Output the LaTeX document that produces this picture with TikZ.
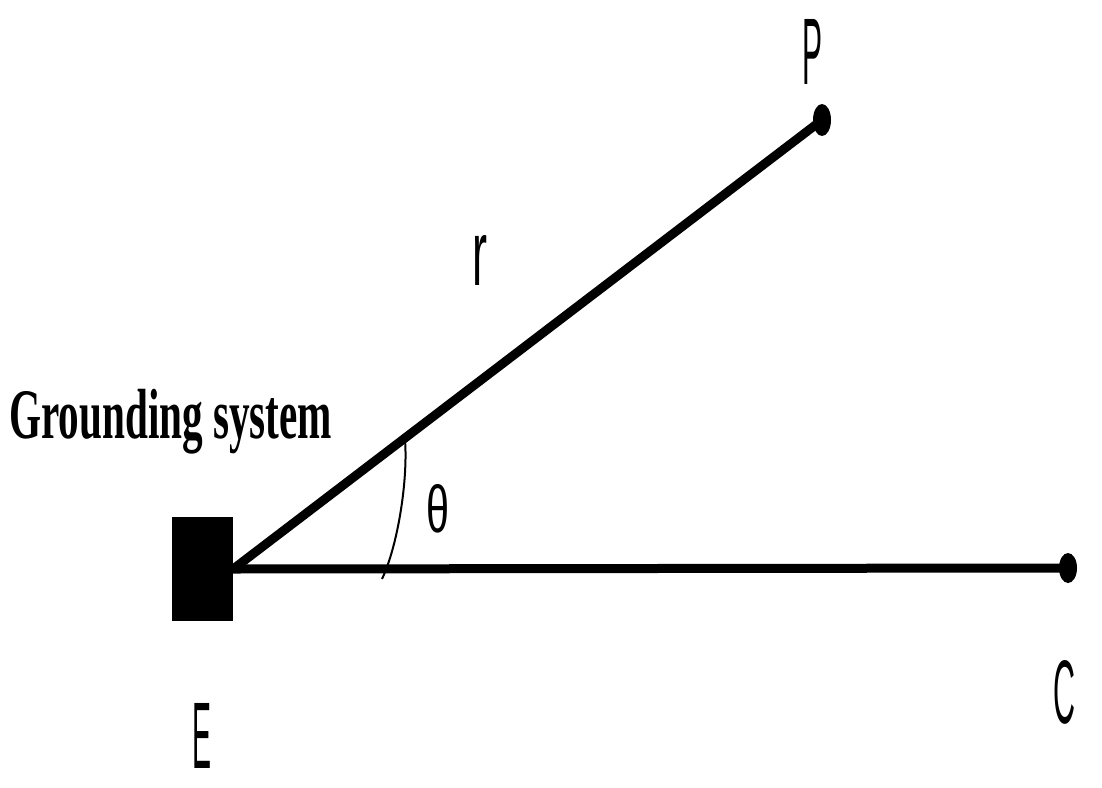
\documentclass[tikz,border=0pt]{standalone}
\usepackage{fontspec}
\setmainfont{Liberation Serif}
\setsansfont{Liberation Sans}
\usetikzlibrary{shapes.geometric}
\begin{document}
\begin{tikzpicture}[x=1pt,y=-1pt,
  lbl/.style={inner sep=0pt, font=\sffamily},
  dot/.style={ellipse, fill=black, inner sep=0pt, minimum width=18pt, minimum height=32pt},
  wire/.style={line width=9pt},
  anglemark/.style={line width=2pt}]
\useasboundingbox (0,0) rectangle (1102,787);
\fill[white] (0,0) rectangle (1102,787);
% grounding system square
\node[fill=black, inner sep=0pt, minimum width=61pt, minimum height=104pt] (sq) at (202.5,569) {};
\node[dot] (Pdot) at (822,120) {};
\node[dot, minimum height=30pt] (Cdot) at (1068,568) {};
\draw[wire] (sq.east) -- (Pdot.center);
\draw[wire] (sq.east) -- (Cdot.center);
% angle arc
\coordinate (a1) at (405,440);
\coordinate (a2) at (382,579);
\draw[anglemark] (a1) .. controls (408,480) and (398,545) .. (a2);
% labels
\node[lbl] (lP) at (812,52) {\resizebox{20pt}{65pt}{P}};
\node[lbl] (lC) at (1064,692) {\resizebox{22pt}{63pt}{C}};
\node[lbl] (lE) at (202,736) {\resizebox{19pt}{65pt}{E}};
\node[lbl] (lr) at (480,260) {\resizebox{15pt}{50pt}{r}};
\node[lbl] (lt) at (438,509) {\resizebox{23pt}{48pt}{θ}};
\node[inner sep=0pt, anchor=base west] (gs) at (9,438) {\scalebox{0.58}[1]{\fontsize{71pt}{73pt}\selectfont\bfseries Grounding system}};
\end{tikzpicture}
\end{document}
